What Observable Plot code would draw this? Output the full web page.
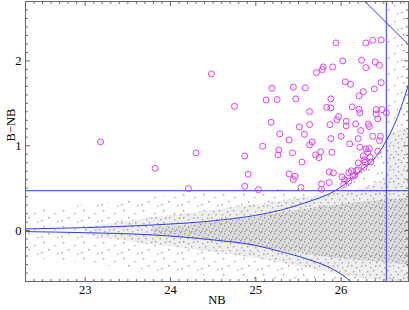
<!DOCTYPE html>
<html><head><meta charset="utf-8">
<script src="https://cdn.jsdelivr.net/npm/d3@7"></script>
<script src="https://cdn.jsdelivr.net/npm/@observablehq/plot@0.6"></script>
<style>html,body{margin:0;padding:0;background:#fff}#chart svg{display:block}</style>
</head><body>
<svg width="0" height="0" style="position:absolute">
<defs>
<pattern id="speckS" patternUnits="userSpaceOnUse" width="20" height="16">
<rect x="3" y="2" width="1.4" height="1.4" fill="#9c9c9c"/>
<rect x="14" y="5" width="1.4" height="1.4" fill="#a8a8a8"/>
<rect x="8" y="9" width="1.4" height="1.4" fill="#a0a0a0"/>
<rect x="17" y="13" width="1.4" height="1.4" fill="#acacac"/>
<rect x="1" y="12" width="1.4" height="1.4" fill="#a4a4a4"/>
</pattern>
<pattern id="speckM" patternUnits="userSpaceOnUse" width="14" height="12">
<rect x="1" y="1" width="1.4" height="1.4" fill="#9a9a9a"/>
<rect x="6" y="3" width="1.4" height="1.4" fill="#a6a6a6"/>
<rect x="11" y="1.5" width="1.4" height="1.4" fill="#a0a0a0"/>
<rect x="3" y="7" width="1.4" height="1.4" fill="#a4a4a4"/>
<rect x="9" y="6" width="1.4" height="1.4" fill="#9c9c9c"/>
<rect x="12" y="10" width="1.4" height="1.4" fill="#a8a8a8"/>
<rect x="5.5" y="10" width="1.4" height="1.4" fill="#a0a0a0"/>
</pattern>
<pattern id="speckD" patternUnits="userSpaceOnUse" width="10" height="8">
<rect x="0" y="0" width="1.4" height="1.4" fill="#8e8e8e"/>
<rect x="4" y="1" width="1.4" height="1.4" fill="#969696"/>
<rect x="8" y="2.5" width="1.4" height="1.4" fill="#929292"/>
<rect x="2" y="4" width="1.4" height="1.4" fill="#9a9a9a"/>
<rect x="6" y="5" width="1.4" height="1.4" fill="#8e8e8e"/>
<rect x="9" y="6.5" width="1.4" height="1.4" fill="#969696"/>
<rect x="1" y="7" width="1.4" height="1.4" fill="#929292"/>
<rect x="4.5" y="6.5" width="1.4" height="1.4" fill="#9a9a9a"/>
</pattern>
</defs></svg>
<div id="chart"></div>
<script>
// Axis ticks
const xMajor = [23, 24, 25, 26];
const yMajor = [0, 1, 2];
const xMinor = d3.range(224, 268).map(d => d / 10).filter(d => !xMajor.includes(d));
const yMinor = d3.range(-5, 27).map(d => d / 10).filter(d => !yMajor.includes(d));

// Selection thresholds (blue lines)
const cutColor = [0.47];
const cutNB = [26.53];
const bLimNB = [26.2, 26.85];
const bLimColor = [2.78, 2.13];

// Sigma curves
const upperNB = [22.3, 23.0, 23.77, 24.5, 25.0, 25.29, 25.6, 25.93, 26.11, 26.23, 26.37, 26.53, 26.66, 26.79];
const upperColor = [0.02, 0.035, 0.065, 0.115, 0.18, 0.24, 0.335, 0.47, 0.60, 0.707, 0.825, 1.06, 1.335, 1.72];
const lowerNB = [22.3, 23.0, 23.77, 24.5, 25.0, 25.29, 25.6, 25.93, 26.11, 26.2];
const lowerColor = [-0.012, -0.025, -0.05, -0.11, -0.175, -0.247, -0.335, -0.47, -0.60, -0.70];

// Gray field-source cloud, envelopes
const outerNB = [22.3, 22.8, 23.3, 23.8, 24.3, 24.8, 25.2, 25.5, 25.8, 26.0, 26.1, 26.2, 26.3, 26.4, 26.53, 26.54, 26.79];
const outerHi = [0.28, 0.28, 0.33, 0.40, 0.45, 0.47, 0.48, 0.50, 0.50, 0.55, 0.60, 0.68, 0.76, 0.87, 1.05, 2.70, 2.70];
const outerLo = [-0.32, -0.36, -0.42, -0.48, -0.52, -0.56, -0.60, -0.60, -0.60, -0.60, -0.60, -0.60, -0.60, -0.60, -0.60, -0.60, -0.60];
const midNB = [23.0, 23.3, 23.8, 24.3, 24.8, 25.2, 25.5, 25.8, 26.1, 26.4, 26.53, 26.54, 26.79];
const midHi = [0.03, 0.08, 0.15, 0.21, 0.28, 0.33, 0.38, 0.42, 0.47, 0.55, 0.62, 1.10, 1.20];
const midLo = [-0.05, -0.10, -0.17, -0.23, -0.30, -0.36, -0.42, -0.48, -0.54, -0.58, -0.60, -0.60, -0.60];
const coreNB = [23.8, 24.3, 24.8, 25.2, 25.5, 25.8, 26.1, 26.4, 26.79];
const coreHi = [0.03, 0.07, 0.13, 0.19, 0.24, 0.28, 0.32, 0.35, 0.38];
const coreLo = [-0.05, -0.10, -0.16, -0.22, -0.27, -0.31, -0.34, -0.37, -0.40];

// Selected emitters (magenta circles)
const circNB = [
  23.18,23.82,24.30,24.21,24.48,24.75,24.87,24.91,24.87,25.03,
  25.08,25.18,25.12,25.25,25.19,25.28,25.27,25.26,25.94,26.29,
  26.37,26.47,25.79,25.78,25.90,26.02,26.24,26.40,26.29,25.71,
  25.44,25.58,26.05,26.11,26.26,26.21,26.39,26.47,25.47,25.88,
  25.63,25.83,25.88,26.13,26.21,26.22,26.41,26.48,26.53,26.41,
  25.97,25.95,26.06,26.43,25.51,25.63,25.87,26.06,26.17,26.32,
  26.33,26.23,25.57,25.39,25.66,25.63,25.88,26.00,26.20,26.37,
  26.46,26.45,26.10,26.22,26.29,26.33,26.31,25.43,25.76,25.70,
  25.74,25.89,26.26,26.34,26.45,26.43,26.27,26.28,26.35,25.54,
  26.18,26.27,25.39,25.46,25.44,25.53,25.77,25.77,25.86,25.91,
  25.86,26.01,26.03,26.09,26.12,26.14,26.16,26.20,26.09,26.04,26.20];
const circColor = [
  1.045,0.734,0.916,0.495,1.847,1.465,0.880,0.664,0.522,0.483,
  0.994,1.276,1.540,1.544,1.677,1.140,0.951,0.892,2.212,2.212,
  2.243,2.247,1.929,1.897,1.929,2.000,2.007,1.988,1.921,1.862,
  1.689,1.682,1.752,1.724,1.638,1.588,1.670,1.744,1.552,1.552,
  1.402,1.453,1.446,1.458,1.430,1.387,1.426,1.426,1.391,1.375,
  1.344,1.305,1.288,1.316,1.222,1.249,1.249,1.234,1.258,1.253,
  1.226,1.179,1.135,1.069,1.045,1.010,1.084,1.111,1.084,1.111,
  1.111,1.061,1.022,0.982,0.963,0.966,0.923,0.916,0.928,0.892,
  0.860,0.923,0.880,0.864,1.948,0.935,0.833,0.805,0.810,0.807,
  0.707,0.746,0.668,0.640,0.601,0.507,0.550,0.487,0.692,0.680,
  0.566,0.633,0.546,0.684,0.704,0.640,0.652,0.715,0.581,0.601,0.798];

const zip = (xs, a, b) => xs.map((x, i) => ({x, a: a[i], b: b ? b[i] : undefined}));
const outer = zip(outerNB, outerLo, outerHi);
const mid = zip(midNB, midLo, midHi);
const core = zip(coreNB, coreLo, coreHi);
const upper = zip(upperNB, upperColor);
const lower = zip(lowerNB, lowerColor);
const bLim = zip(bLimNB, bLimColor);
const circles = zip(circNB, circColor);

const serif = "'Liberation Serif', 'DejaVu Serif', serif";
const blue = "#2b3cff";
const frameCol = "#666";
const tickShape = {draw(context, l) { context.moveTo(0, 0); context.lineTo(0, -l); }};
const ticks = (data, anchor, rotate, len, k) => Plot.vector(data, {
  [k]: d => d, frameAnchor: anchor, rotate, length: len, anchor: "start",
  shape: tickShape, stroke: frameCol, strokeWidth: 1
});

const chart = Plot.plot({
  width: 409, height: 310,
  marginLeft: 25, marginRight: 1, marginTop: 1, marginBottom: 29,
  style: {fontFamily: serif, fontSize: "12.5px", color: "black", background: "white"},
  x: {domain: [22.3, 26.79]},
  y: {domain: [-0.6, 2.7]},
  marks: [
    Plot.areaY(outer, {x: "x", y1: "a", y2: "b", fill: "url(#speckS)"}),
    Plot.areaY(mid, {x: "x", y1: "a", y2: "b", fill: "#eeeeee", curve: "monotone-x"}),
    Plot.areaY(mid, {x: "x", y1: "a", y2: "b", fill: "url(#speckM)", curve: "monotone-x"}),
    Plot.areaY(core, {x: "x", y1: "a", y2: "b", fill: "#dedede", curve: "monotone-x"}),
    Plot.areaY(core, {x: "x", y1: "a", y2: "b", fill: "url(#speckD)", curve: "monotone-x"}),
    Plot.ruleY(cutColor, {stroke: blue, strokeWidth: 1}),
    Plot.ruleX(cutNB, {stroke: blue, strokeWidth: 1}),
    Plot.line(upper, {x: "x", y: "a", stroke: blue, strokeWidth: 1, curve: "monotone-x", clip: true}),
    Plot.line(lower, {x: "x", y: "a", stroke: blue, strokeWidth: 1, curve: "monotone-x", clip: true}),
    Plot.line(bLim, {x: "x", y: "a", stroke: blue, strokeWidth: 1, clip: true}),
    Plot.dot(circles, {x: "x", y: "a", r: 3, stroke: "#e040f0", strokeWidth: 1, fill: "none"}),
    Plot.frame({stroke: frameCol}),
    ticks(xMajor, "bottom", 0, 4, "x"),
    ticks(xMinor, "bottom", 0, 2, "x"),
    ticks(xMajor, "top", 180, 4, "x"),
    ticks(xMinor, "top", 180, 2, "x"),
    ticks(yMajor, "left", 90, 4, "y"),
    ticks(yMinor, "left", 90, 2, "y"),
    ticks(yMajor, "right", -90, 4, "y"),
    ticks(yMinor, "right", -90, 2, "y"),
    Plot.axisX(xMajor, {anchor: "bottom", tickSize: 0, tickPadding: 4, label: null, tickFormat: "d", fontSize: 12.5, fontFamily: serif}),
    Plot.axisY(yMajor, {anchor: "left", tickSize: 0, tickPadding: 4, label: null, tickFormat: "d", fontSize: 12.5, fontFamily: serif}),
    Plot.text(["NB"], {frameAnchor: "bottom", dy: 22, fontSize: 12.5, fontFamily: serif}),
    Plot.text(["B\u2212NB"], {frameAnchor: "left", dx: -15, rotate: -90, fontSize: 12.5, fontFamily: serif})
  ]
});
document.getElementById("chart").append(chart);
</script>
</body></html>
